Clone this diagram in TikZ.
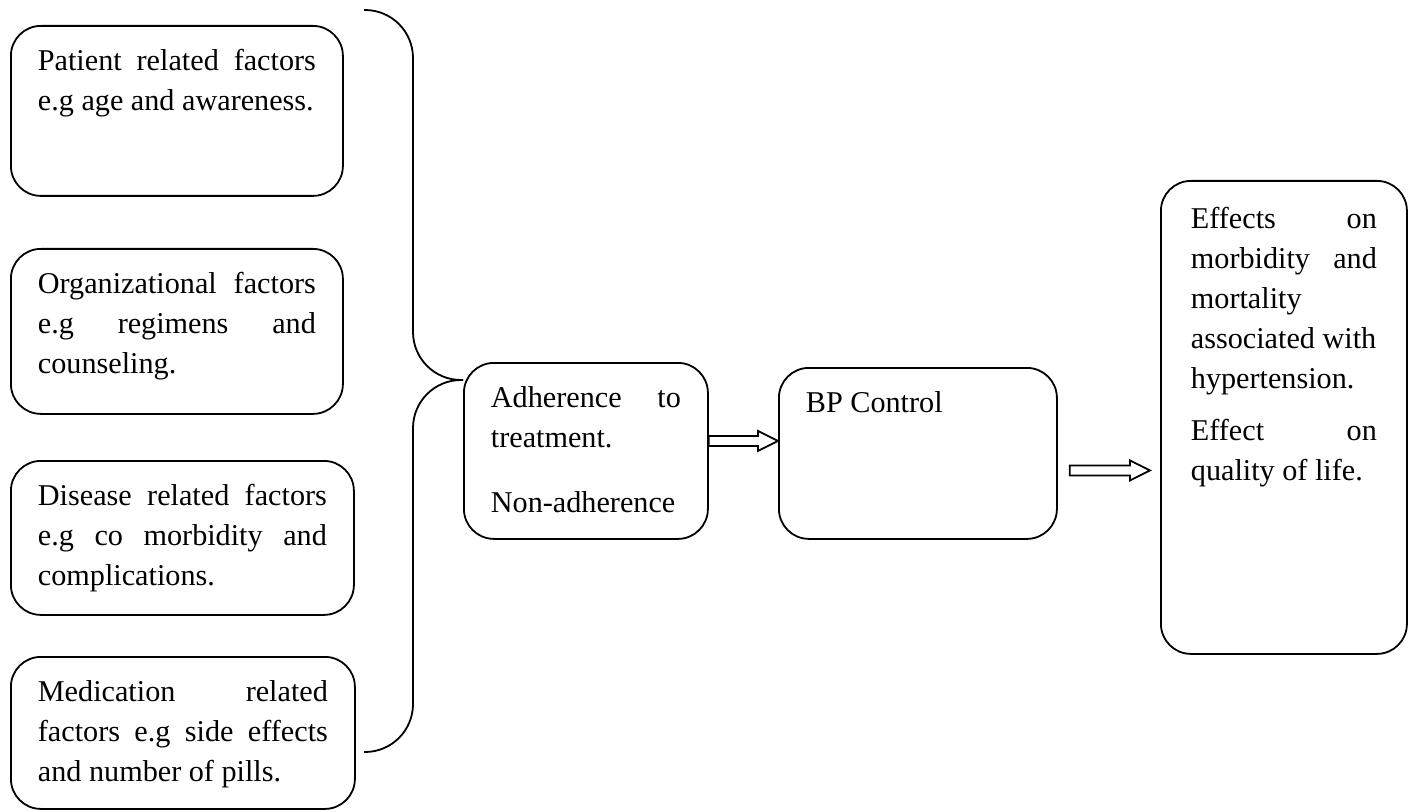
\documentclass[tikz,border=0pt]{standalone}
\usepackage{fontspec}
\setmainfont{Liberation Serif}
\usetikzlibrary{calc}

% one justified line, and a last (natural) line
\newcommand{\fillline}[1]{\makebox[\linewidth][s]{\strut #1}\par}
\newcommand{\lastline}[1]{\mbox{\strut #1}\par}
% text block of fixed height, set at the top
\newcommand{\boxtext}[3]{\parbox[t][#1][t]{#2}{#3}}
% hollow block arrow between two points at the same height
\newcommand{\hollowarrow}[2]{%
  \draw[hollow] ($(#1)+(0,-5)$) -- ($(#2)+(-20,-5)$) -- ($(#2)+(-20,-10)$) -- (#2)
    -- ($(#2)+(-20,10)$) -- ($(#2)+(-20,5)$) -- ($(#1)+(0,5)$) -- cycle;}

\tikzset{
  factor/.style={draw, line width=0.9pt, rounded corners=15pt, anchor=north west,
    inner xsep=13.5pt, inner ysep=8.5pt, font=\fontsize{15.1pt}{20pt}\selectfont},
  bracket/.style={line width=0.9pt, rounded corners=24pt},
  hollow/.style={line width=0.9pt, line join=miter},
}

\begin{document}
\begin{tikzpicture}[x=0.5pt,y=-0.5pt]
\useasboundingbox (0,0) rectangle (1411,812);

% factors
\node[factor] (patient) at (10,25) {\boxtext{68pt}{139pt}{%
  \fillline{Patient related factors}
  \lastline{e.g age and awareness.}}};
\node[factor] (organ) at (10,248) {\boxtext{65.5pt}{139pt}{%
  \fillline{Organizational factors}
  \fillline{e.g regimens and}
  \lastline{counseling.}}};
\node[factor] (disease) at (10,460) {\boxtext{60pt}{144.5pt}{%
  \fillline{Disease related factors}
  \fillline{e.g co morbidity and}
  \lastline{complications.}}};
\node[factor] (medic) at (10,656) {\boxtext{59pt}{145pt}{%
  \fillline{Medication related}
  \fillline{factors e.g side effects}
  \lastline{and number of pills.}}};

% chain
\node[factor] (adhere) at (463,362) {\boxtext{71pt}{95pt}{%
  \fillline{Adherence to}
  \lastline{treatment.}
  \vspace{12.5pt}
  \lastline{Non-adherence}}};
\node[factor] (bp) at (778,367) {\boxtext{68.5pt}{112pt}{%
  \lastline{BP Control}}};
\node[factor, inner xsep=15pt, inner ysep=10pt] (effects) at (1160,180) {\boxtext{216.5pt}{93pt}{%
  \fillline{Effects on}
  \fillline{morbidity and}
  \lastline{mortality}
  \lastline{associated with}
  \lastline{hypertension.}
  \vspace{6pt}
  \fillline{Effect on}
  \lastline{quality of life.}}};

% bracket
\coordinate (tip) at ($(adhere.north west)+(0,18)$);
\coordinate (bracetop) at (364,10);
\coordinate (bracebot) at (364,752);
\draw[bracket] (bracetop) -| ($(tip)+(-50,0)$) -- (tip);
\draw[bracket] (tip) -- ($(tip)+(-50,0)$) |- (bracebot);

% arrows
\coordinate (a1s) at ($(adhere.east)+(0,-10)$);
\coordinate (a1e) at (a1s -| bp.west);
\hollowarrow{a1s}{a1e}
\coordinate (a2s) at ($(bp.east)+(12,17)$);
\coordinate (a2e) at ($(a2s -| effects.west)+(-10,0)$);
\hollowarrow{a2s}{a2e}
\end{tikzpicture}
\end{document}
